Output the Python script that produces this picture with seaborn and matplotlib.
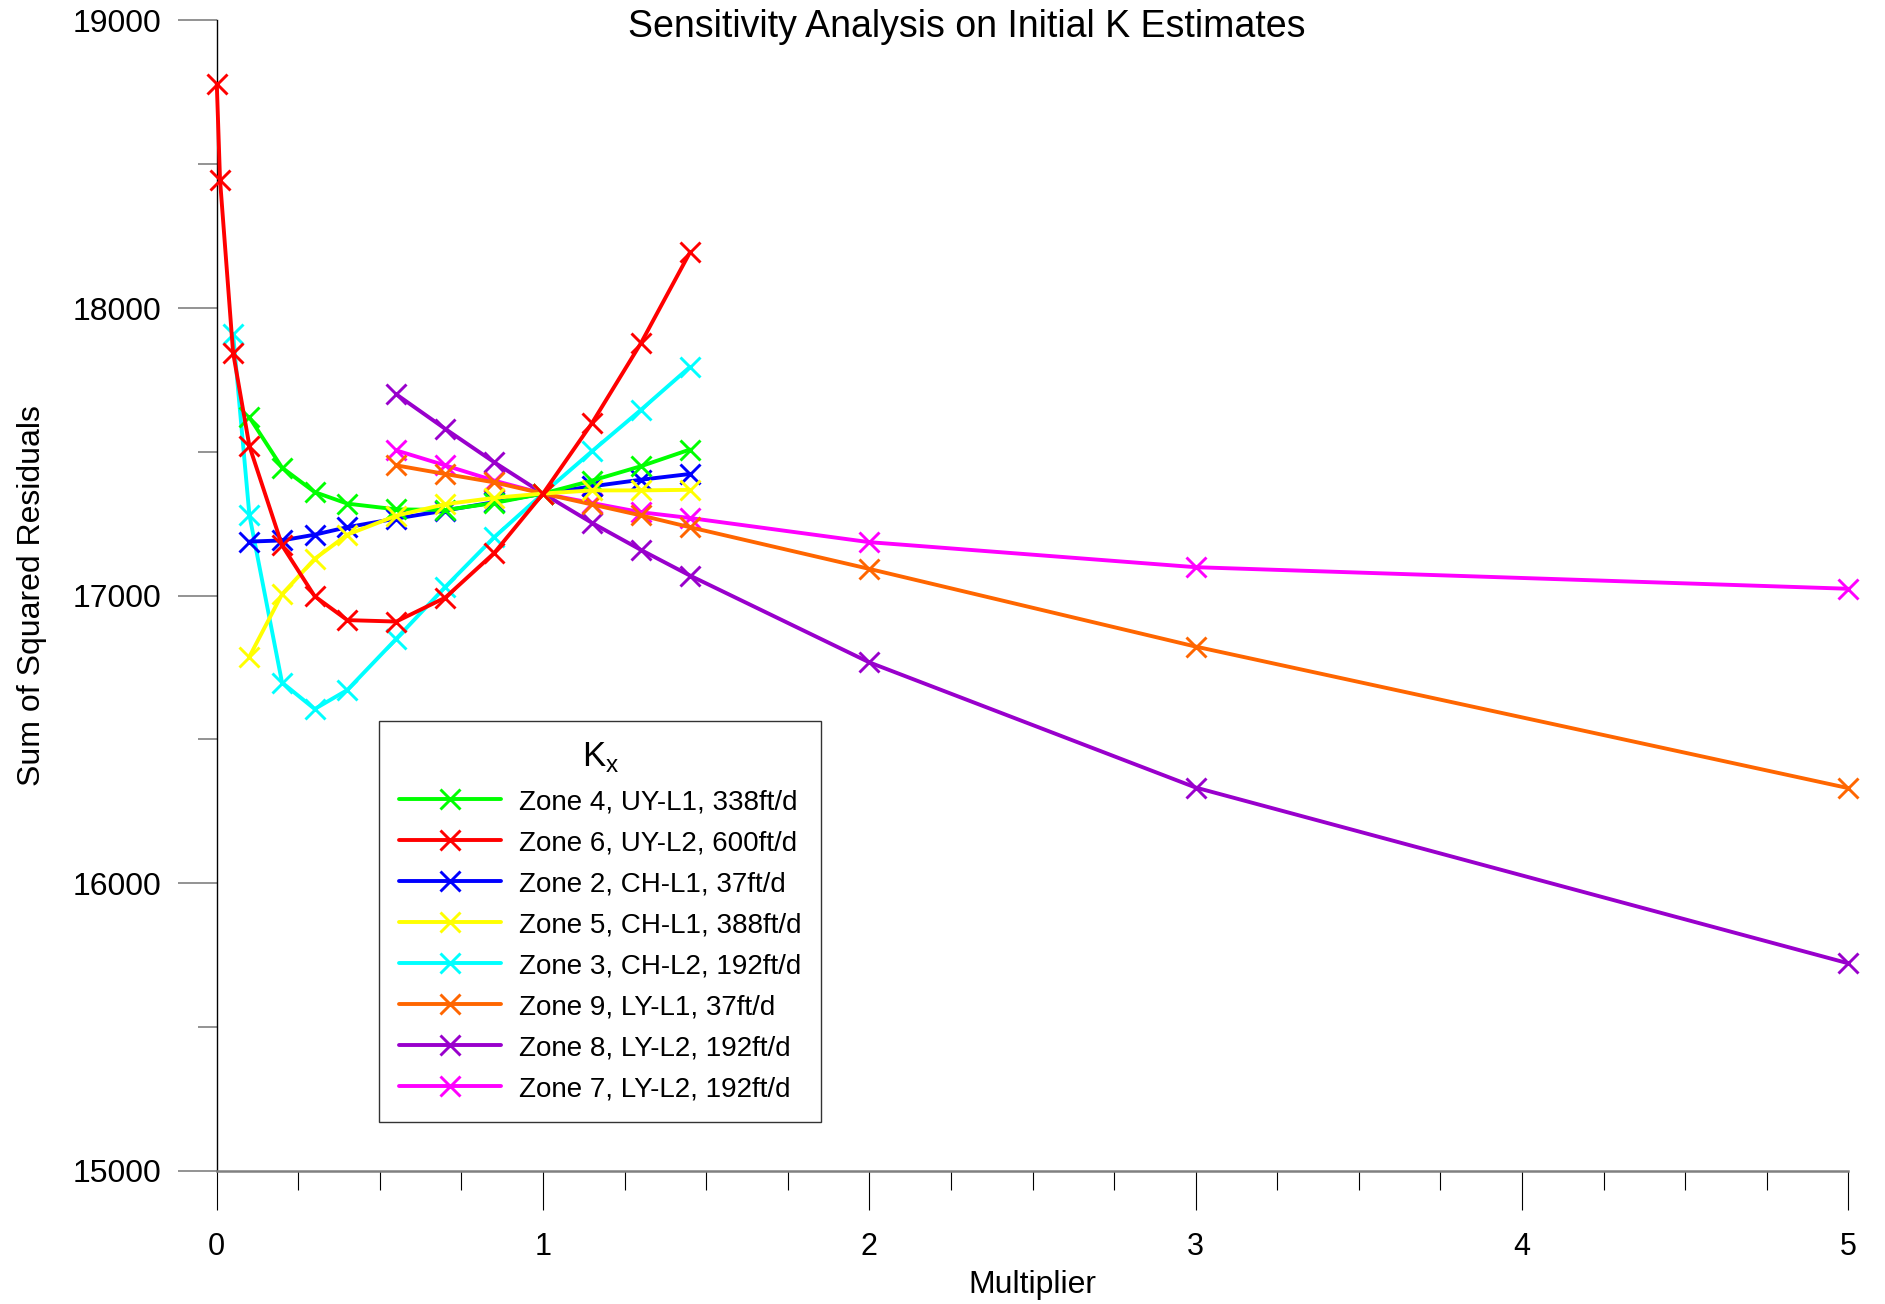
import matplotlib
matplotlib.use("Agg")
import matplotlib.pyplot as plt
from matplotlib.lines import Line2D
from matplotlib.ticker import MultipleLocator
import seaborn as sns
import pandas as pd

# Multiplier values applied to each zone's initial K
x_near = [0.1, 0.2, 0.3, 0.4, 0.55, 0.7, 0.85, 1.0, 1.15, 1.3, 1.45]
x_red = [0.0, 0.01, 0.05] + x_near
x_cyan = [0.05] + x_near
x_wide = [0.55, 0.7, 0.85, 1.0, 1.15, 1.3, 1.45, 2.0, 3.0, 5.0]

# Sum of squared residuals per zone
ssr_zone4 = [17620, 17445, 17360, 17320, 17300, 17298, 17322, 17355, 17400, 17450, 17508]
ssr_zone6 = [18780, 18445, 17845, 17520, 17175, 16998, 16915, 16910, 16993, 17148, 17355, 17600, 17878, 18193]
ssr_zone2 = [17188, 17192, 17212, 17238, 17268, 17296, 17325, 17355, 17380, 17403, 17423]
ssr_zone5 = [16788, 17005, 17128, 17212, 17278, 17318, 17340, 17355, 17366, 17366, 17368]
ssr_zone3 = [17910, 17280, 16698, 16606, 16672, 16850, 17030, 17203, 17355, 17502, 17646, 17795]
ssr_zone9 = [17453, 17423, 17394, 17355, 17317, 17279, 17238, 17093, 16823, 16331]
ssr_zone8 = [17700, 17580, 17464, 17355, 17253, 17159, 17070, 16768, 16333, 15722]
ssr_zone7 = [17505, 17453, 17400, 17355, 17322, 17290, 17270, 17186, 17099, 17024]

labels = [
    "Zone 4, UY-L1, 338ft/d",
    "Zone 6, UY-L2, 600ft/d",
    "Zone 2, CH-L1, 37ft/d",
    "Zone 5, CH-L1, 388ft/d",
    "Zone 3, CH-L2, 192ft/d",
    "Zone 9, LY-L1, 37ft/d",
    "Zone 8, LY-L2, 192ft/d",
    "Zone 7, LY-L2, 192ft/d",
]
colors = ["#00FF00", "#FF0000", "#0000FF", "#FFFF00", "#00FFFF", "#FF6600", "#9900CC", "#FF00FF"]
xs = [x_near, x_red, x_near, x_near, x_cyan, x_wide, x_wide, x_wide]
ys = [ssr_zone4, ssr_zone6, ssr_zone2, ssr_zone5, ssr_zone3, ssr_zone9, ssr_zone8, ssr_zone7]
# stacking order of the curves (higher draws on top)
zorders = [6, 8, 5, 7, 4, 3.5, 3, 2.5]

sns.set_theme(style="white")
plt.rcParams["font.family"] = ["Liberation Sans", "DejaVu Sans"]
plt.rcParams["mathtext.fontset"] = "custom"
plt.rcParams["mathtext.rm"] = "Liberation Sans"
plt.rcParams["text.color"] = "black"
plt.rcParams["axes.labelcolor"] = "black"
plt.rcParams["xtick.color"] = "black"
plt.rcParams["ytick.color"] = "black"

fig = plt.figure(figsize=(18.85, 13.04), dpi=100)
ax = fig.add_axes([0.115, 0.102, 0.8655, 0.8824])

LW = 2.8
MS = 14
MEW = 2.1

for x, y, c, lab, z in zip(xs, ys, colors, labels, zorders):
    df = pd.DataFrame({"Multiplier": x, "SSR": y})
    sns.lineplot(data=df, x="Multiplier", y="SSR", ax=ax, color=c, lw=LW,
                 marker="x", markersize=MS, markeredgewidth=MEW,
                 markeredgecolor=c, sort=False, errorbar=None,
                 legend=False, zorder=z, clip_on=False)

ax.set_xlim(0, 5)
ax.set_ylim(15000, 19000)

ax.xaxis.set_major_locator(MultipleLocator(1))
ax.xaxis.set_minor_locator(MultipleLocator(0.25))
ax.yaxis.set_major_locator(MultipleLocator(1000))
ax.yaxis.set_minor_locator(MultipleLocator(500))

for side in ("top", "right"):
    ax.spines[side].set_visible(False)
ax.spines["left"].set_color("black")
ax.spines["left"].set_linewidth(1.0)
ax.spines["bottom"].set_color("#808080")
ax.spines["bottom"].set_linewidth(1.8)

ax.tick_params(axis="x", which="major", direction="out", length=28, width=0.8,
               color="black", labelcolor="black", labelsize=22, pad=16, bottom=True)
ax.tick_params(axis="x", which="minor", direction="out", length=14, width=0.8,
               color="black", bottom=True)
ax.tick_params(axis="y", which="major", direction="out", length=28, width=1.2,
               color="#808080", labelcolor="black", labelsize=23, pad=12, left=True)
ax.tick_params(axis="y", which="minor", direction="out", length=14, width=1.2,
               color="#808080", left=True)

ax.set_xlabel("Multiplier", fontsize=23, labelpad=6, color="black")
ax.set_ylabel("Sum of Squared Residuals", fontsize=23, color="black")
ax.yaxis.set_label_coords(-0.104, 0.5)
ax.grid(False)

fig.text(0.513, 0.9716, "Sensitivity Analysis on Initial K Estimates",
         fontsize=27, ha="center", va="baseline", color="black")

handles = [Line2D([0], [0], color=c, lw=LW, marker="x", markersize=MS,
                  markeredgewidth=MEW) for c in colors]
leg = ax.legend(handles, labels, title="K$_\\mathregular{x}$",
                loc="upper left", bbox_to_anchor=(0.0995, 0.3913),
                borderaxespad=0, fontsize=20, title_fontsize=25,
                handlelength=3.7, handletextpad=0.65, borderpad=0.7,
                labelspacing=0.54, frameon=True, fancybox=False,
                edgecolor="#333333", framealpha=1)
leg.get_frame().set_linewidth(1.0)
for t in leg.get_texts():
    t.set_color("black")
leg.get_title().set_color("black")
leg.set_zorder(10)

fig.savefig("out.png", dpi=100)
